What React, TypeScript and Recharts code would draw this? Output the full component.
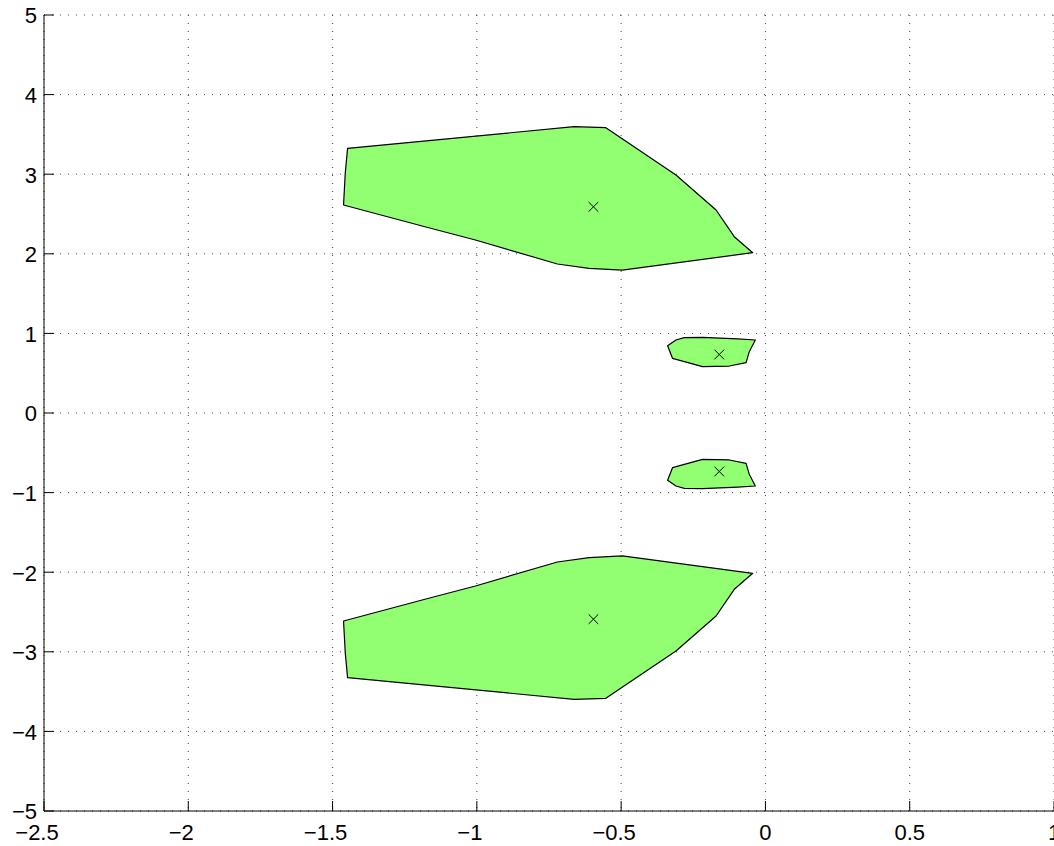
import React from "react";
import { ScatterChart, Scatter, XAxis, YAxis, CartesianGrid } from "recharts";

const xTicks = [-2.5, -2, -1.5, -1, -0.5, 0, 0.5, 1];
const yTicks = [-5, -4, -3, -2, -1, 0, 1, 2, 3, 4, 5];

const upperBig = [
  { x: -1.448, y: 3.325 },
  { x: -1.456, y: 3.015 },
  { x: -1.462, y: 2.613 },
  { x: -1.18, y: 2.34 },
  { x: -1.005, y: 2.173 },
  { x: -0.721, y: 1.872 },
  { x: -0.611, y: 1.818 },
  { x: -0.496, y: 1.796 },
  { x: -0.044, y: 2.014 },
  { x: -0.108, y: 2.215 },
  { x: -0.171, y: 2.55 },
  { x: -0.31, y: 2.99 },
  { x: -0.553, y: 3.584 },
  { x: -0.663, y: 3.597 },
];
const lowerBig = [
  { x: -1.448, y: -3.325 },
  { x: -1.456, y: -3.015 },
  { x: -1.462, y: -2.613 },
  { x: -1.18, y: -2.34 },
  { x: -1.005, y: -2.173 },
  { x: -0.721, y: -1.872 },
  { x: -0.611, y: -1.818 },
  { x: -0.496, y: -1.796 },
  { x: -0.044, y: -2.014 },
  { x: -0.108, y: -2.215 },
  { x: -0.171, y: -2.55 },
  { x: -0.31, y: -2.99 },
  { x: -0.553, y: -3.584 },
  { x: -0.663, y: -3.597 },
];
const upperSmall = [
  { x: -0.339, y: 0.846 },
  { x: -0.322, y: 0.687 },
  { x: -0.218, y: 0.582 },
  { x: -0.125, y: 0.59 },
  { x: -0.067, y: 0.632 },
  { x: -0.056, y: 0.77 },
  { x: -0.035, y: 0.917 },
  { x: -0.096, y: 0.93 },
  { x: -0.218, y: 0.951 },
  { x: -0.281, y: 0.946 },
  { x: -0.31, y: 0.917 },
];
const lowerSmall = [
  { x: -0.339, y: -0.846 },
  { x: -0.322, y: -0.687 },
  { x: -0.218, y: -0.582 },
  { x: -0.125, y: -0.59 },
  { x: -0.067, y: -0.632 },
  { x: -0.056, y: -0.77 },
  { x: -0.035, y: -0.917 },
  { x: -0.096, y: -0.93 },
  { x: -0.218, y: -0.951 },
  { x: -0.281, y: -0.946 },
  { x: -0.31, y: -0.917 },
];
const centers = [
  { x: -0.596, y: 2.59 },
  { x: -0.596, y: -2.59 },
  { x: -0.16, y: 0.735 },
  { x: -0.16, y: -0.735 },
];

const FONT = "'Liberation Sans', Arial, Helvetica, sans-serif";
const FS = 22;
const fmt = (v: number) => String(v).replace("-", "\u2212");

const XTick = (props: any) => {
  const { x, y, payload } = props;
  const neg = payload.value < 0;
  return (
    <g>
      <line x1={x} x2={x} y1={y} y2={y - 10} stroke="#000" strokeWidth={1} />
      <text x={x} dx={neg ? -7 : 0} y={y + 29} textAnchor="middle" fontSize={FS} fontFamily={FONT} fill="#000">
        {fmt(payload.value)}
      </text>
    </g>
  );
};

const YTick = (props: any) => {
  const { x, y, payload } = props;
  return (
    <g>
      <line x1={x} x2={x + 10} y1={y} y2={y} stroke="#000" strokeWidth={1} />
      <text x={x - 7} y={y} dy="0.38em" textAnchor="end" fontSize={FS} fontFamily={FONT} fill="#000">
        {fmt(payload.value)}
      </text>
    </g>
  );
};

const polyLine = (p: any) => (
  <polygon
    points={(p.points || []).map((pt: any) => `${pt.x},${pt.y}`).join(" ")}
    fill="#92FF72"
    stroke="#000"
    strokeWidth={1.2}
    strokeLinejoin="round"
  />
);
const NoShape = () => <g />;
const XMark = (props: any) => {
  const { cx, cy } = props;
  const r = 4.8;
  return (
    <g stroke="#000" strokeWidth={1}>
      <line x1={cx - r} y1={cy - r} x2={cx + r} y2={cy + r} />
      <line x1={cx - r} y1={cy + r} x2={cx + r} y2={cy - r} />
    </g>
  );
};

export default function App() {
  return (
    <div style={{ position: "absolute", left: 0, top: 0, width: 1054, height: 846, overflow: "hidden", background: "#fff" }}>
      <ScatterChart width={1054} height={846} margin={{ top: 15, right: 0, bottom: 0, left: 0 }}>
        <CartesianGrid stroke="#444" strokeDasharray="1 7" strokeWidth={1} horizontalValues={yTicks} verticalValues={xTicks} />
        <XAxis
          type="number"
          dataKey="x"
          domain={[-2.5, 1]}
          ticks={xTicks}
          allowDataOverflow
          height={35}
          tickSize={0}
          tickMargin={0}
          tickLine={false}
          axisLine={{ stroke: "#000", strokeWidth: 1 }}
          tick={<XTick />}
          interval={0}
        />
        <YAxis
          type="number"
          dataKey="y"
          domain={[-5, 5]}
          ticks={yTicks}
          allowDataOverflow
          width={44}
          tickSize={0}
          tickMargin={0}
          tickLine={false}
          axisLine={{ stroke: "#000", strokeWidth: 1 }}
          tick={<YTick />}
          interval={0}
        />
        <Scatter data={upperBig} line={polyLine} shape={NoShape} isAnimationActive={false} />
        <Scatter data={lowerBig} line={polyLine} shape={NoShape} isAnimationActive={false} />
        <Scatter data={upperSmall} line={polyLine} shape={NoShape} isAnimationActive={false} />
        <Scatter data={lowerSmall} line={polyLine} shape={NoShape} isAnimationActive={false} />
        <Scatter data={centers} shape={XMark} isAnimationActive={false} />
      </ScatterChart>
    </div>
  );
}
